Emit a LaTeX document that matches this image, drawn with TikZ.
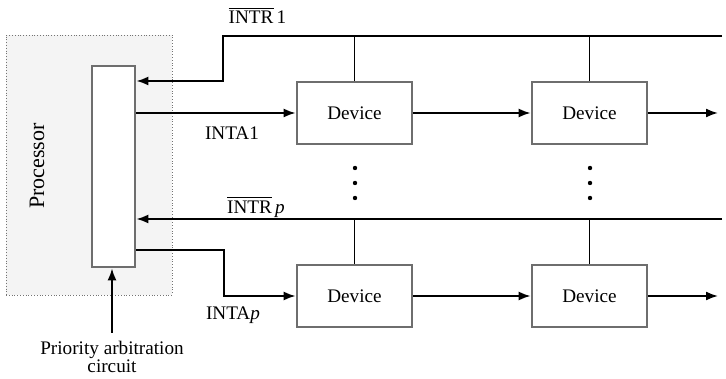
\documentclass[tikz,border=0pt]{standalone}
\usepackage{fontspec}
\setmainfont{Liberation Serif}
\usetikzlibrary{positioning,arrows.meta,calc}
\definecolor{speck}{HTML}{F4F4F4}
\definecolor{rim}{HTML}{6E6E6E}

\tikzset{
  devbox/.style={draw=rim,line width=1.4pt,minimum width=57.5pt,minimum height=31pt,inner sep=0pt,font=\fontsize{9.6}{11}\selectfont},
  sig/.style={line width=0.9pt},
  tip/.style={sig,-{Latex[length=6pt,width=4.5pt]}},
  lbl/.style={font=\fontsize{9.6}{9}\selectfont,inner sep=0pt}
}

\begin{document}
\begin{tikzpicture}[x=0.5pt,y=0.5pt]
        \useasboundingbox (0,0) rectangle (726,379);
        % processor and arbitration circuit
        \node[draw=black!55,densely dotted,fill=speck,minimum width=83pt,minimum height=130pt,inner sep=0pt] (proc) at (89,214) {};
        \node[rotate=90,font=\fontsize{11}{13}\selectfont] (proclbl) at (37,213) {Processor};
        \node[draw=rim,line width=1.4pt,fill=white,minimum width=21.5pt,minimum height=100.5pt,inner sep=0pt] (arb) at (113.5,212.5) {};
        \node[lbl,align=center] (prio) at (112,22) {Priority arbitration\\circuit};
        \draw[tip] (prio.north |- 0,46) -- (prio.north |- arb.south);

        % devices
        \node[devbox] (dev11) at (354.5,266) {Device};
        \node[devbox] (dev12) at (589.5,266) {Device};
        \node[devbox] (dev21) at (354.5,83) {Device};
        \node[devbox] (dev22) at (589.5,83) {Device};

        % request lines
        \coordinate (r1) at (722,343);
        \coordinate (r1in) at (0,298);
        \coordinate (rp) at (722,160);
        \draw[tip] (r1) -- (223,343) |- (arb.east |- r1in);
        \draw[tip] (rp) -- (arb.east |- rp);
        \draw[sig] (dev11.north) -- (dev11.north |- r1);
        \draw[sig] (dev12.north) -- (dev12.north |- r1);
        \draw[sig] (dev21.north) -- (dev21.north |- rp);
        \draw[sig] (dev22.north) -- (dev22.north |- rp);

        % acknowledge chains
        \coordinate (ackp) at (224,129);
        \coordinate (out1) at (718,266);
        \coordinate (outp) at (718,83);
        \draw[tip] (arb.east |- dev11) -- (dev11);
        \draw[tip] (dev11) -- (dev12);
        \draw[tip] (dev12) -- (out1);
        \draw[tip] (arb.east |- ackp) -- (ackp) |- (dev21);
        \draw[tip] (dev21) -- (dev22);
        \draw[tip] (dev22) -- (outp);

        % labels
        \node[lbl] (intr1) at (257.5,364) {$\overline{\hbox{INTR}}$\,1};
        \node[lbl] (inta1) at (232,246) {INTA1};
        \node[lbl] (intrp) at (256,172) {$\overline{\hbox{INTR}}$\,\textit{p}};
        \node[lbl] (intap) at (233,64) {INTA\textit{p}};

        % vertical dots
        \foreach \x in {355,590}
          \foreach \y in {211,196,181}
            \fill (\x,\y) circle (1.1pt);
      \end{tikzpicture}
\end{document}
